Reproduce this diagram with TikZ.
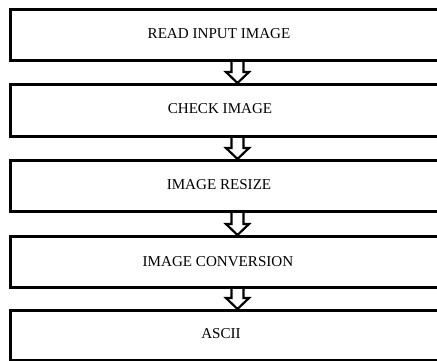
\documentclass[tikz,border=0pt]{standalone}
\usepackage{fontspec}
\setmainfont{Liberation Serif}
\usetikzlibrary{calc}
\begin{document}
\begin{tikzpicture}[x=1pt,y=-1pt]
\tikzset{
  box/.style={draw, line width=3pt, fill=white, minimum width=436pt, inner sep=0pt, anchor=north west},
  lbl/.style={font=\fontsize{15.1}{17}\selectfont, inner sep=0pt},
  flow/.style={draw, line width=2.2pt, fill=white, line join=miter}
}
\newcommand{\flowarrow}[2]{%
  \coordinate (tip) at ($(#2.north)+(9,0)$);
  \path[flow] ($(#1.south)+(3,0)$) -- ($(tip)+(-6,-11)$) -- ($(tip)+(-11.5,-11)$) -- (tip)
     -- ($(tip)+(11.5,-11)$) -- ($(tip)+(6,-11)$) -- ($(#1.south)+(15,0)$);
}
\useasboundingbox (0,0) rectangle (437,360);
\begin{scope}
\clip (0,0) rectangle (437,360);
\fill[white] (0,0) rectangle (437,360);
\node[box, minimum height=51pt] (b1) at (9,8) {};
\node[box, minimum height=52pt] (b2) at (9,83) {};
\node[box, minimum height=51pt] (b3) at (9,159) {};
\node[box, minimum height=51pt] (b4) at (9,235) {};
\node[box, minimum height=50pt] (b5) at (9,309) {};
\node[lbl] (t1) at (219,34) {READ INPUT IMAGE};
\node[lbl] (t2) at (220,109) {CHECK IMAGE};
\node[lbl] (t3) at (219,185) {IMAGE RESIZE};
\node[lbl] (t4) at (218,262) {IMAGE CONVERSION};
\node[lbl] (t5) at (221,334) {ASCII};
\flowarrow{b1}{b2}
\flowarrow{b2}{b3}
\flowarrow{b3}{b4}
\flowarrow{b4}{b5}
\end{scope}
\end{tikzpicture}
\end{document}
